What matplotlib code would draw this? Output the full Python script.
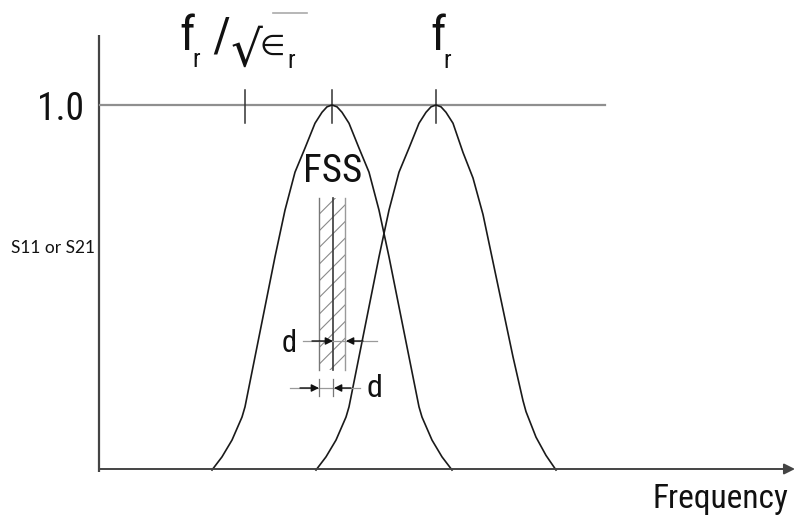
import matplotlib
matplotlib.use("Agg")
import matplotlib.pyplot as plt
from matplotlib.patches import Rectangle
from matplotlib import font_manager as fm

# ---------------- data (frequency in arbitrary units, amplitude normalised) -------------
curve1_freq = [212, 222, 232, 242, 245, 255, 265, 275, 285, 295, 305, 315, 322, 327, 332,
               337, 342, 349, 359, 369, 379, 389, 399, 409, 419, 422, 432, 442, 452]
curve1_amp = [0.00, 0.036, 0.082, 0.145, 0.173, 0.31, 0.447, 0.584, 0.712, 0.816, 0.882,
              0.95, 0.98, 0.995, 1.00, 0.995, 0.98, 0.95, 0.882, 0.816, 0.712, 0.584,
              0.447, 0.31, 0.173, 0.145, 0.082, 0.036, 0.00]
curve2_freq = [316, 326, 336, 346, 349, 359, 369, 379, 389, 399, 409, 419, 426, 431, 436,
               441, 446, 453, 463, 473, 483, 493, 503, 513, 523, 526, 536, 546, 556]
curve2_amp = [0.00, 0.036, 0.082, 0.145, 0.173, 0.31, 0.447, 0.584, 0.712, 0.816, 0.882,
              0.95, 0.98, 0.995, 1.00, 0.995, 0.98, 0.95, 0.87, 0.80, 0.70, 0.57, 0.44,
              0.31, 0.19, 0.16, 0.09, 0.04, 0.00]
tick_freqs = [245, 332, 436]          # f_r/sqrt(eps_r), FSS-loaded peak, f_r
ref_level = 1.0
ref_span = [100, 605]
slab_edges = [319, 333, 345]          # FSS slab: outer faces and middle plane
slab_amp = [0.274, 0.745]

# ---------------- figure -----------------------------------------------------------
W, H = 795, 532
fig = plt.figure(figsize=(W / 100, H / 100), dpi=100)
ax = fig.add_axes([0, 0, 1, 1])
ax.set_xlim(0, W)
Y0, Y1 = 470.0, 105.0                       # pixel rows of amplitude 0 and 1
scale = Y0 - Y1
ax.set_ylim((Y0 - H) / scale, Y0 / scale)
ax.axis("off")


def A(ypx):
    return (Y0 - ypx) / scale


names = {f.name for f in fm.fontManager.ttflist}
narrow_cands = ["Liberation Sans Narrow", "Roboto Condensed", "DejaVu Sans Condensed"]
narrow = [n for n in narrow_cands if n in names] + ["DejaVu Sans"]
NS = dict(family=narrow, stretch="condensed", color="#111111")
ink = "#1a1a1a"

# axes lines
ax.plot([99, 99], [A(472), A(35)], color="#444444", lw=1.6, solid_capstyle="butt")
ax.annotate("", xy=(795, A(469)), xytext=(99, A(469)),
            arrowprops=dict(arrowstyle="-|>", color="#444444", lw=1.4,
                            mutation_scale=16, shrinkA=0, shrinkB=0))
# reference level line
ax.plot(ref_span, [ref_level, ref_level], color="#8f8f8f", lw=1.6)
for f in tick_freqs:
    ax.plot([f, f], [A(90), A(123)], color="#333333", lw=1.1)

# response curves
ax.plot(curve1_freq, curve1_amp, color=ink, lw=1.2)
ax.plot(curve2_freq, curve2_amp, color=ink, lw=1.2)

# FSS slab (hatched)
plt.rcParams["hatch.linewidth"] = 0.8
ax.add_patch(Rectangle((slab_edges[0], slab_amp[0]), slab_edges[2] - slab_edges[0],
                       slab_amp[1] - slab_amp[0], fill=False, hatch="//",
                       edgecolor="#8a8a8a", lw=0))
ax.plot([slab_edges[0]] * 2, slab_amp, color="#777777", lw=1.0)
ax.plot([slab_edges[2]] * 2, slab_amp, color="#9a9a9a", lw=1.0)
ax.plot([slab_edges[1]] * 2, slab_amp, color="#3a3a3a", lw=1.2)

# dimension arrows
arr = dict(arrowstyle="-|>", color="#111111", lw=1.0, mutation_scale=11,
           shrinkA=0, shrinkB=0)
yu = A(341)
ax.plot([303, 377], [yu, yu], color="#9a9a9a", lw=0.9)
ax.annotate("", xy=(slab_edges[1], yu), xytext=(312, yu), arrowprops=arr)
ax.annotate("", xy=(slab_edges[2] + 1, yu), xytext=(363, yu), arrowprops=arr)
yl = A(388)
ax.plot([290, 360], [yl, yl], color="#9a9a9a", lw=0.9)
ax.annotate("", xy=(slab_edges[0], yl), xytext=(300, yl), arrowprops=arr)
ax.annotate("", xy=(slab_edges[1] + 1, yl), xytext=(351, yl), arrowprops=arr)
for xe in (slab_edges[0], slab_edges[1]):
    ax.plot([xe, xe], [A(379), A(396)], color="#777777", lw=0.9)

# texts
ax.text(60, A(120), "1.0", ha="center", va="baseline", fontsize=27, **NS)
ax.text(95, A(248), "S11 or S21", ha="right", va="center", fontsize=12.5,
        family=["Lato", "DejaVu Sans"], color="#111111")
ax.text(333, A(182), "FSS", ha="center", va="baseline", fontsize=28, **NS)
ax.text(289, A(352), "d", ha="center", va="baseline", fontsize=22, **NS)
ax.text(374, A(397), "d", ha="center", va="baseline", fontsize=23, **NS)
ax.text(720, A(508), "Frequency", ha="center", va="baseline", fontsize=24, **NS)

# f_r / sqrt(eps_r)
ax.text(187, A(50), "f", ha="center", va="baseline", fontsize=35, **NS)
ax.text(196, A(67), "r", ha="center", va="baseline", fontsize=18, **NS)
ax.text(221, A(50), "/", ha="center", va="baseline", fontsize=35, **NS)
ax.text(246, A(66), "\u221a", ha="center", va="baseline", fontsize=36,
        family=["DejaVu Sans"], color="#111111")
ax.text(272, A(55), "\u2208", ha="center", va="baseline", fontsize=21,
        family=["DejaVu Sans"], color="#111111")
ax.text(291, A(68), "r", ha="center", va="baseline", fontsize=18, **NS)
ax.plot([273, 307], [A(13), A(13)], color="#aaaaaa", lw=1.2)
# f_r
ax.text(438, A(50), "f", ha="center", va="baseline", fontsize=35, **NS)
ax.text(447, A(68), "r", ha="center", va="baseline", fontsize=18, **NS)

fig.savefig("out.png", dpi=100)
